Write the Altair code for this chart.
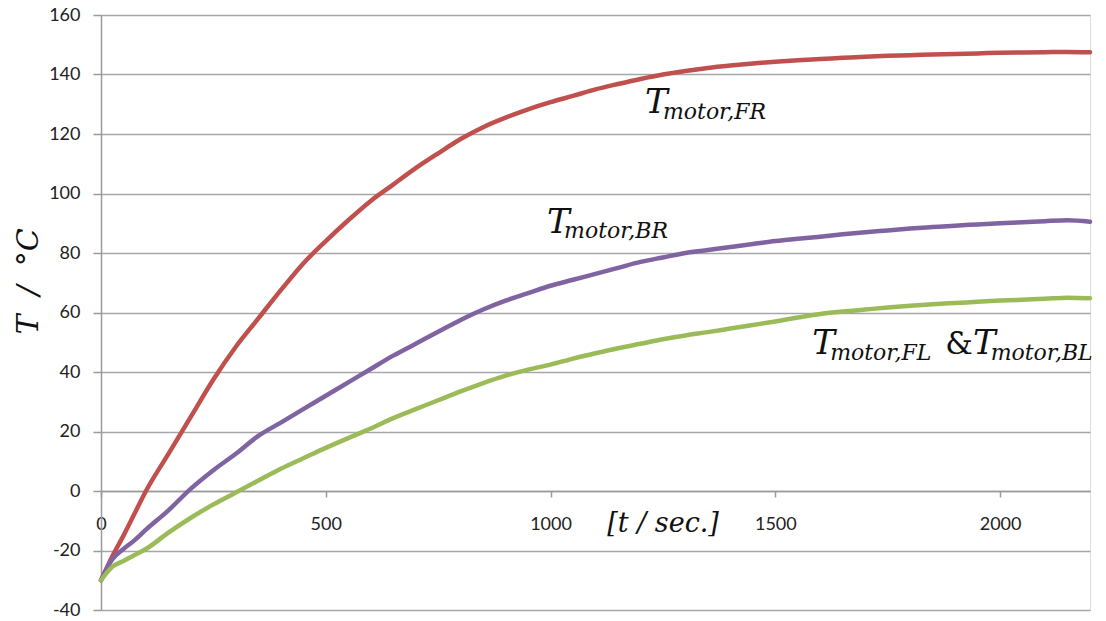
import altair as alt
import pandas as pd

# time axis (s)
t = [0, 25, 50, 75, 100, 150, 200, 250, 300, 350, 400, 450, 500, 550, 600, 650, 700, 750,
     800, 850, 900, 950, 1000, 1050, 1100, 1150, 1200, 1250, 1300, 1350, 1400, 1450, 1500,
     1550, 1600, 1650, 1700, 1750, 1800, 1850, 1900, 1950, 2000, 2050, 2100, 2150, 2200]

t_fr = [-30, -22, -15, -7.5, 0, 12.5, 25, 37.5, 48.5, 58, 67.5, 76.5, 84, 91, 97.5, 103,
        108.5, 113.5, 118.3, 122.3, 125.5, 128.3, 130.7, 132.8, 135, 136.8, 138.5, 140,
        141.2, 142.2, 143, 143.7, 144.3, 144.8, 145.2, 145.6, 146, 146.3, 146.5, 146.7,
        146.9, 147.1, 147.3, 147.4, 147.5, 147.6, 147.5]

t_br = [-30, -23, -19.5, -16.5, -13, -6.5, 0.8, 7, 12.5, 18.5, 23, 27.5, 32, 36.5, 41, 45.5,
        49.5, 53.5, 57.5, 61, 64, 66.5, 69, 71, 73, 75, 77, 78.5, 80, 81, 82, 83, 84, 84.8,
        85.5, 86.3, 87, 87.6, 88.2, 88.7, 89.2, 89.6, 90, 90.3, 90.7, 91, 90.5]

t_fl_bl = [-30, -25.5, -23.5, -21.5, -19.5, -14, -9, -4.5, -0.5, 3.5, 7.5, 11, 14.5, 17.8,
           21, 24.5, 27.5, 30.5, 33.5, 36.3, 38.8, 40.8, 42.5, 44.5, 46.3, 48, 49.5, 51, 52.3,
           53.4, 54.6, 55.8, 57, 58.3, 59.5, 60.3, 61, 61.7, 62.3, 62.8, 63.2, 63.6, 64,
           64.3, 64.6, 65, 64.8]

series_names = ["FR", "BR", "FL_BL"]
series_colors = ["#C0504D", "#8064A2", "#9BBB59"]

y_ticks = [-40, -20, 0, 20, 40, 60, 80, 100, 120, 140, 160]
x_ticks = [0, 500, 1000, 1500, 2000]

NB = "\u00a0"
y_title = "T" + NB * 2 + "/" + NB * 2 + "°C"

# annotation texts (positions in data units)
big_text = ["T", "T", "T", "T"]
big_x = [1210, 992, 1582, 1940]
big_y = [127, 86.7, 46, 46]

sub_text = ["motor,FR", "motor,BR", "motor,FL", "motor,BL"]
sub_x = [1250, 1030, 1622, 1979]
sub_y = [125.2, 84.9, 44.2, 44.2]

amp_text = ["&"]
amp_x = [1878]
amp_y = [46]

xt_text = ["[t / sec.]"]
xt_x = [1126]
xt_y = [-13.8]

rows = []
for name, vals in zip(series_names, [t_fr, t_br, t_fl_bl]):
    for tt, v in zip(t, vals):
        rows.append({"t": tt, "T": v, "series": name})
df = pd.DataFrame(rows)

W, H = 989, 595
xs = alt.Scale(domain=[0, 2200], nice=False, zero=False)
ys = alt.Scale(domain=[-40, 160], nice=False, zero=False)

lines = alt.Chart(df).mark_line(strokeWidth=4.5, strokeJoin="round", strokeCap="round",
                                interpolate="monotone").encode(
    x=alt.X("t:Q", scale=xs,
            axis=alt.Axis(values=x_ticks, grid=False, offset=-119, title=None,
                          domainColor="#9a9a9a", domainWidth=1.5,
                          tickColor="#9a9a9a", tickWidth=1.5, tickSize=6,
                          labelExpr="'' + datum.value",
                          labelFont="Lato", labelFontSize=18, labelColor="#222",
                          labelPadding=18, labelFlush=False)),
    y=alt.Y("T:Q", scale=ys,
            axis=alt.Axis(values=y_ticks, grid=True, gridColor="#a6a6a6", gridWidth=1.5,
                          domainColor="#9a9a9a", domainWidth=1.5,
                          tickColor="#9a9a9a", tickWidth=1.5, tickSize=8,
                          labelExpr="'' + datum.value",
                          labelFont="Lato", labelFontSize=18, labelColor="#222",
                          labelPadding=13,
                          title=y_title, titleFont="DejaVu Serif", titleFontStyle="italic",
                          titleFontWeight="normal", titleFontSize=30, titleColor="#111",
                          titleAngle=270, titleX=-64, titleY=266, titleAlign="center",
                          titleBaseline="alphabetic")),
    color=alt.Color("series:N", scale=alt.Scale(domain=series_names, range=series_colors),
                    legend=None),
    order="t:Q",
)

big_df = pd.DataFrame({"x": big_x, "y": big_y, "text": big_text})
sub_df = pd.DataFrame({"x": sub_x, "y": sub_y, "text": sub_text})
amp_df = pd.DataFrame({"x": amp_x, "y": amp_y, "text": amp_text})
xt_df = pd.DataFrame({"x": xt_x, "y": xt_y, "text": xt_text})

def txt(d, size, style):
    return alt.Chart(d).mark_text(font="DejaVu Serif", fontSize=size, fontStyle=style,
                                  align="left", baseline="alphabetic", color="#111").encode(
        x=alt.X("x:Q", scale=xs), y=alt.Y("y:Q", scale=ys), text="text:N")

chart = alt.layer(
    lines,
    txt(big_df, 34, "italic"),
    txt(sub_df, 22, "italic"),
    txt(amp_df, 31, "normal"),
    txt(xt_df, 27, "italic"),
).properties(
    width=W, height=H,
    autosize=alt.AutoSizeParams(type="none"),
    padding={"left": 101, "top": 15, "right": 16, "bottom": 11},
).configure_view(stroke=None).configure(background="white")

chart.save("out.html", embed_options={"renderer": "svg", "actions": False})
